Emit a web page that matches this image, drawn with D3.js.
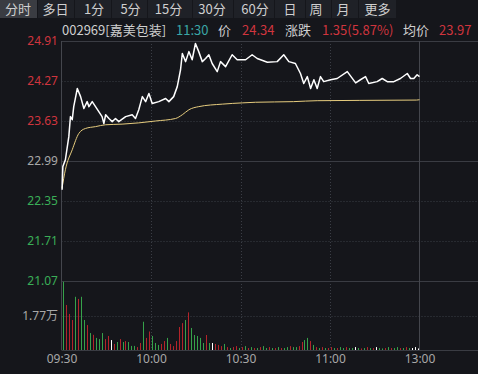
<!DOCTYPE html>
<html><head><meta charset="utf-8">
<script src="https://cdn.jsdelivr.net/npm/d3@7/dist/d3.min.js"></script>
<style>
html,body{margin:0;padding:0;background:#15161b;}
svg{display:block;font-family:"Noto Sans CJK SC","Noto Sans",sans-serif;}
</style></head>
<body><svg id="c" width="478" height="374"></svg>
<script>
// ---- data ----
const tabs = ["分时","多日","1分","5分","15分","30分","60分","日","周","月","更多"];
const prevClose = 22.99;
const priceTicks = [24.91, 24.27, 23.63, 22.99, 22.35, 21.71, 21.07];
const volTick = 1.77;        // 万
const volMax = 3.54;
const timeTicks = [0, 30, 60, 90, 120];
const timeLabels = ["09:30","10:00","10:30","11:00","13:00"];
// price line: minute offsets from 09:30 and prices
const priceMin = [0.2,0.45,1.3,2.45,3.0,3.6,4.1,5.3,6.4,7.5,8.6,9.2,10.3,11.4,12.5,13.6,14.2,14.8,15.9,17.0,18.1,19.2,21.5,23.7,24.8,25.9,27.1,28.2,29.3,30.4,32.6,34.9,36.0,37.6,38.8,39.9,40.5,41.6,42.7,43.8,44.9,46.0,47.2,48.3,49.4,50.5,52.2,53.3,55.0,57.2,58.9,61.7,63.9,65.6,69.0,72.3,74.5,76.2,78.4,80.1,81.2,82.4,83.5,84.6,85.7,86.8,87.9,90.2,92.4,95.8,98.6,100.2,101.9,103.0,105.8,107.5,109.2,111.4,113.6,115.9,117.0,118.1,119.2,120];
const priceVal = [22.53,22.90,23.01,23.38,23.70,23.65,23.86,24.15,24.02,23.83,23.94,23.86,23.94,23.86,23.78,23.70,23.59,23.73,23.67,23.62,23.67,23.62,23.70,23.73,23.67,23.81,24.02,23.94,24.07,23.91,23.94,23.99,23.94,24.02,24.18,24.45,24.71,24.58,24.74,24.61,24.87,24.74,24.58,24.63,24.69,24.55,24.42,24.58,24.50,24.69,24.61,24.61,24.69,24.63,24.57,24.58,24.69,24.58,24.55,24.39,24.23,24.34,24.15,24.29,24.15,24.34,24.26,24.29,24.31,24.42,24.24,24.29,24.34,24.23,24.26,24.31,24.26,24.26,24.31,24.39,24.31,24.31,24.37,24.34];
// average price line
const avgMin = [0.2,1.3,3.6,5.8,8.0,11.4,14.8,20.3,25.9,31.5,38.2,40.5,42.7,46.0,53.9,60.6,65.0,77.8,85.7,100,119,120];
const avgVal = [22.56,22.85,23.17,23.43,23.51,23.54,23.57,23.58,23.60,23.63,23.67,23.73,23.81,23.86,23.90,23.92,23.93,23.94,23.955,23.96,23.965,23.97];
// volume per minute (万) and direction r/g/w
const volume = [3.50,2.31,1.85,1.54,2.73,2.62,2.73,1.54,1.28,0.87,0.78,0.62,0.56,0.87,0.56,0.72,0.51,0.31,0.41,0.56,
 0.41,0.46,0.41,0.21,0.21,0.15,0.36,1.45,0.62,0.95,0.72,0.36,0.26,0.31,0.46,0.62,0.31,0.20,0.46,1.18,
 1.38,1.54,1.93,1.13,0.77,0.72,0.62,0.36,0.77,0.36,0.36,0.31,0.26,0.20,0.31,0.15,0.10,0.15,0.20,0.10,
 0.15,0.20,0.10,0.15,0.10,0.10,0.15,0.20,0.10,0.15,0.10,0.10,0.15,0.10,0.10,0.15,0.20,0.15,0.15,0.20,
 0.41,0.51,0.62,0.46,0.26,0.15,0.10,0.15,0.10,0.10,0.15,0.10,0.10,0.15,0.10,0.15,0.10,0.10,0.15,0.10,
 0.08,0.10,0.15,0.10,0.10,0.15,0.10,0.08,0.10,0.15,0.10,0.10,0.15,0.10,0.10,0.15,0.10,0.10,0.15,0.08];
const dir = "grrrgrggrgrgggrrwrgrgrgggrrgrrgggrrgrrrrrgrgggggrgwrrrgrgrrgrgrgrgrggrgrgrggrggrrggrgrgrgrrgrggrggwgrgrgrwggrgrggrgrgw";
// header
const header = {code:"002969[嘉美包装]", time:"11:30", price:"24.34", change:"1.35(5.87%)", avg:"23.97"};

// ---- layout ----
const W = 478, H = 374;
const L = 61.5, R0 = 419.5;
const pTop = 41, pBot = 281, vBot = 350;
const svg = d3.select("#c");
const C = {bg:"#15161b", tab:"#1f2127", tabSel:"#3a3c42", grid:"#3b3e46", solid:"#3a3c43",
  red:"#d0353e", green:"#3aae57", gray:"#a8a8a8", text:"#cfcfcf", teal:"#3aa6a6",
  vred:"#b3242a", vgreen:"#36a24a", price:"#ffffff", avg:"#e6cc7e"};

svg.append("rect").attr("width",W).attr("height",H).attr("fill",C.bg);

// tabs
const tabEdges = [0,38,75,112,148,193,234,275,306,332,359,397];
const tabCenters = [18,55.5,94,130.5,168.5,212,255,290,316,343,377.5];
tabs.forEach((t,i)=>{
  svg.append("rect").attr("x",tabEdges[i]).attr("y",0)
    .attr("width",tabEdges[i+1]-tabEdges[i]-1).attr("height",18)
    .attr("fill", i===0?C.tabSel:C.tab);
  svg.append("text").attr("x",tabCenters[i]).attr("y",14).attr("text-anchor","middle")
    .attr("font-size",13).attr("fill",C.text).text(t);
});

// header row
const hdr = [
  {x:62, t:header.code, c:C.text},
  {x:176, t:header.time, c:C.teal},
  {x:218, t:"价", c:C.text},
  {x:242, t:header.price, c:C.red},
  {x:285, t:"涨跌", c:C.text},
  {x:322, t:header.change, c:C.red},
  {x:403, t:"均价", c:C.text},
  {x:439, t:header.avg, c:C.red}
];
hdr.forEach(h=>svg.append("text").attr("x",h.x).attr("y",34.5).attr("font-size",13)
  .attr("fill",h.c).text(h.t));

// scales
const x = d3.scaleLinear().domain([0,120]).range([L,R0]);
const y = d3.scaleLinear().domain([21.07,24.91]).range([pBot,pTop]);
const yv = d3.scaleLinear().domain([0,volMax]).range([vBot,pTop+(pBot-pTop)]);
yv.range([vBot,pBot]);

// horizontal grid
const g = svg.append("g");
priceTicks.forEach(v=>{
  const solid = (v===24.91||v===prevClose||v===21.07);
  g.append("line").attr("x1",L).attr("x2",W).attr("y1",Math.round(y(v))+0.5).attr("y2",Math.round(y(v))+0.5)
   .attr("stroke", solid?C.solid:C.grid).attr("stroke-width",1)
   .attr("stroke-dasharray", solid?null:"1,2");
});
g.append("line").attr("x1",L).attr("x2",W).attr("y1",Math.round(yv(volTick))+0.5).attr("y2",Math.round(yv(volTick))+0.5)
  .attr("stroke",C.grid).attr("stroke-dasharray","1,2");
g.append("line").attr("x1",L).attr("x2",W).attr("y1",vBot+0.5).attr("y2",vBot+0.5).attr("stroke",C.solid);
// vertical grid
timeTicks.slice(1,4).forEach(t=>{
  g.append("line").attr("x1",Math.round(x(t))+0.5).attr("x2",Math.round(x(t))+0.5).attr("y1",pTop).attr("y2",vBot)
   .attr("stroke",C.grid).attr("stroke-dasharray","1,2");
});
g.append("line").attr("x1",Math.round(x(120))-0.5).attr("x2",Math.round(x(120))-0.5).attr("y1",pTop).attr("y2",vBot)
  .attr("stroke","#44464d");
g.append("line").attr("x1",L).attr("x2",L).attr("y1",pTop).attr("y2",vBot).attr("stroke","#44464d");

// volume bars
const bw = (x(1)-x(0));
svg.append("g").selectAll("rect").data(volume).join("rect")
  .attr("x",(d,i)=>Math.round(x(i)+bw*0.45))
  .attr("width",1)
  .attr("y",d=>yv(d))
  .attr("height",d=>vBot-yv(d))
  .attr("fill",(d,i)=>dir[i]==="r"?C.vred:dir[i]==="g"?C.vgreen:"#ffffff");

// average line
const avgData = avgMin.map((m,i)=>[m,avgVal[i]]);
svg.append("path").datum(avgData)
  .attr("d",d3.line().x(d=>x(d[0])).y(d=>y(d[1])).curve(d3.curveMonotoneX))
  .attr("fill","none").attr("stroke",C.avg).attr("stroke-width",1);
// price line
const pData = priceMin.map((m,i)=>[m,priceVal[i]]);
svg.append("path").datum(pData)
  .attr("d",d3.line().x(d=>x(d[0])).y(d=>y(d[1])))
  .attr("fill","none").attr("stroke",C.price).attr("stroke-width",1.5).attr("stroke-linejoin","round");

// y axis labels (price)
const ax = svg.append("g").attr("transform",`translate(58,0)`)
  .call(d3.axisLeft(y).tickValues(priceTicks).tickSize(0).tickPadding(0).tickFormat(d3.format(".2f")));
ax.select(".domain").remove();
ax.selectAll("text").attr("font-size",12).attr("font-family","'Noto Sans','Noto Sans CJK SC',sans-serif")
  .attr("fill",d=>d>prevClose?C.red:d<prevClose?C.green:C.gray);
// volume label
const av = svg.append("g").attr("transform",`translate(58,0)`)
  .call(d3.axisLeft(yv).tickValues([volTick]).tickSize(0).tickPadding(0).tickFormat(d=>d+"万"));
av.select(".domain").remove();
av.selectAll("text").attr("font-size",12).attr("font-family","'Noto Sans','Noto Sans CJK SC',sans-serif").attr("fill",C.gray);
// time axis
const axx = svg.append("g").attr("transform",`translate(0,352)`)
  .call(d3.axisBottom(x).tickValues(timeTicks).tickSize(0).tickPadding(2).tickFormat((d,i)=>timeLabels[i]));
axx.select(".domain").remove();
axx.selectAll("text").attr("font-size",12).attr("font-family","'Noto Sans','Noto Sans CJK SC',sans-serif").attr("fill",C.gray);
</script></body></html>
